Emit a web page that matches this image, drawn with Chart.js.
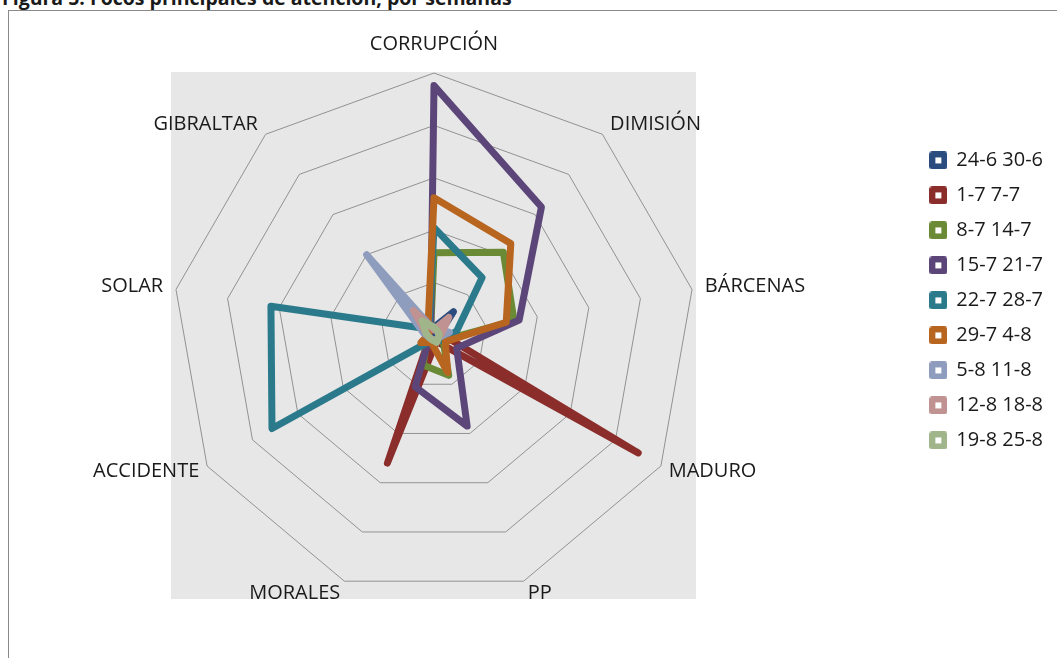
<!DOCTYPE html>
<html>
<head>
<meta charset="utf-8">
<script src="https://cdn.jsdelivr.net/npm/chart.js@4.4.1/dist/chart.umd.min.js"></script>
<style>
  body { margin: 0; background: #fff; overflow: hidden; }
  #titulo {
    position: absolute; left: 2px; top: -12px;
    font: bold 19.5px/19.5px "Open Sans", sans-serif; color: #1a1a1a; white-space: nowrap;
  }
  #marco {
    position: absolute; left: 8px; top: 10px; width: 1100px; height: 700px;
    border-left: 1px solid #8a8a8a; border-top: 1px solid #8a8a8a;
  }
  /* el lienzo sobresale un poco por la izquierda para centrar la red como en el original */
  #wrap { position: absolute; left: -46px; top: 0; width: 1103px; height: 658px; }
</style>
</head>
<body>
<div id="titulo">Figura 5: Focos principales de atención, por semanas</div>
<div id="marco"></div>
<div id="wrap"><canvas id="radar"></canvas></div>
<script>

// ejes del radar
const focos = ['CORRUPCIÓN', 'DIMISIÓN', 'BÁRCENAS', 'MADURO', 'PP', 'MORALES', 'ACCIDENTE', 'SOLAR', 'GIBRALTAR'];

// semanas (leyenda)
const semanas = ['24-6 30-6', '1-7 7-7', '8-7 14-7', '15-7 21-7', '22-7 28-7', '29-7 4-8', '5-8 11-8', '12-8 18-8', '19-8 25-8'];

// valores por semana, en el orden de "focos"
const sem_24_6 = [1.5, 5.8, 1, 1.5, 1, 0.5, 0.5, 0.5, 1];
const sem_1_7  = [1, 1.5, 1.3, 45, 1.3, 26, 1, 1, 1];
const sem_8_7  = [15.7, 20.6, 15.5, 2, 8.2, 6.1, 1.5, 1, 1];
const sem_15_7 = [47.6, 31.9, 16.5, 5, 18.5, 10.5, 1, 1, 1];
const sem_22_7 = [20.5, 14.3, 4.4, 2, 1, 1, 35.7, 31.6, 1.5];
const sem_29_7 = [26.2, 22.8, 14, 2.5, 7.6, 1.5, 2.9, 1, 1.8];
const sem_5_8  = [1, 1.5, 3, 1, 1, 1, 1, 2, 20];
const sem_12_8 = [1, 4.4, 1.5, 1, 1, 1, 1, 1.5, 6.1];
const sem_19_8 = [1.5, 1, 1, 1, 1.5, 1, 1, 1.5, 3.5];

const series = [sem_24_6, sem_1_7, sem_8_7, sem_15_7, sem_22_7, sem_29_7, sem_5_8, sem_12_8, sem_19_8];
const colores = ['#2b4c7e', '#8b2d2b', '#6a8a35', '#5c4679', '#2a7a8c', '#b8651f', '#8e9cbe', '#c09291', '#a0b58a'];

// separacion de cada etiqueta respecto al poligono exterior
const labelPad = [28, 12, 13, 9, 12, 12, 9, 13, 12];

// cuadradito de la leyenda, estilo excel
function legendBox (color) {
    const c = document.createElement('canvas');
    c.width = 18;
    c.height = 18;
    const g = c.getContext('2d');
    g.fillStyle = color;
    g.beginPath();
    g.roundRect(0, 0, 18, 18, 3);
    g.fill();
    g.fillStyle = '#fff';
    g.fillRect(6, 6, 6, 6);
    return c;
}
const legendBoxes = colores.map(legendBox);

// fondo gris detras de la red
const plotArea = {
    id: 'plotArea',
    beforeDraw (chart) {
        const r = chart.scales.r;
        const ctx = chart.ctx;
        ctx.save();
        ctx.fillStyle = '#e7e7e7';
        ctx.fillRect(r.xCenter - r.drawingArea - 1, r.yCenter - r.drawingArea - 1, 2 * r.drawingArea + 1, 2 * r.drawingArea + 3);
        ctx.restore();
    }
};

new Chart(document.getElementById('radar').getContext('2d'), {
    type: 'radar',
    plugins: [plotArea],
    data: {
        labels: focos,
        datasets: series.map((d, i) => ({
            label: semanas[i],
            data: d,
            borderColor: colores[i],
            backgroundColor: colores[i],
            borderWidth: 7,
            borderJoinStyle: 'round',
            borderCapStyle: 'round',
            fill: false,
            pointRadius: 0,
            pointHoverRadius: 0,
            order: series.length - i
        }))
    },
    options: {
        responsive: true,
        maintainAspectRatio: false,
        animation: false,
        devicePixelRatio: 1,
        layout: {
            padding: { top: 30, bottom: 46, left: 0, right: 4 }
        },
        scales: {
            r: {
                min: 0,
                max: 50,
                ticks: { display: false, stepSize: 10 },
                angleLines: { display: false },
                grid: { color: '#929292', lineWidth: 1 },
                pointLabels: {
                    padding: (ctx) => labelPad[ctx.index],
                    color: '#1a1a1a',
                    font: { family: "'Open Sans', sans-serif", size: 20, lineHeight: 0.05 }
                }
            }
        },
        plugins: {
            tooltip: { enabled: false },
            legend: {
                position: 'right',
                align: 'start',
                title: { display: true, text: '', padding: { top: 91, bottom: 0 } },
                labels: {
                    usePointStyle: true,
                    boxWidth: 16,
                    boxHeight: 16,
                    padding: 15,
                    color: '#1a1a1a',
                    font: { family: "'Open Sans', sans-serif", size: 20 },
                    generateLabels: (chart) => chart.data.datasets.map((ds, i) => ({
                        text: ds.label,
                        pointStyle: legendBoxes[i],
                        fillStyle: ds.borderColor,
                        strokeStyle: ds.borderColor,
                        fontColor: '#1a1a1a',
                        lineWidth: 0,
                        hidden: false,
                        datasetIndex: i
                    }))
                }
            }
        }
    }
});
</script>
</body>
</html>
